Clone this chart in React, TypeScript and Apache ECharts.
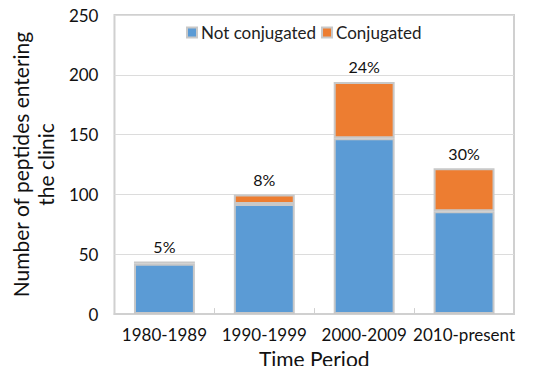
import React, { useEffect, useRef } from "react";
import * as echarts from "echarts";

const categories = ["1980-1989", "1990-1999", "2000-2009", "2010-present"];
const notConjugated = [42, 92, 147, 86];
const conjugated = [2, 8, 47, 36];
const percentLabels = ["5%", "8%", "24%", "30%"];
const yTicks = [0, 50, 100, 150, 200, 250];

const FONT = "Lato";

export default function App() {
  const ref = useRef<HTMLDivElement>(null);
  useEffect(() => {
    if (!ref.current) return;
    const chart = echarts.init(ref.current, null, { renderer: "svg" });
    chart.setOption({
      animation: false,
      textStyle: { fontFamily: FONT },
      grid: { left: 101, right: 36, top: 15, bottom: 59, show: true, borderColor: "#d0d0d0", borderWidth: 2 },
      legend: {
        top: 19,
        left: 181,
        itemWidth: 10,
        itemHeight: 10,
        itemGap: 5,
        textStyle: { fontSize: 17, color: "#222", fontFamily: FONT, padding: [0, 0, 0, -1] },
        data: [
          { name: "Not conjugated", icon: "rect" },
          { name: "Conjugated", icon: "rect" },
        ],
      },
      xAxis: {
        type: "category",
        data: categories,
        name: "Time Period",
        nameLocation: "middle",
        nameGap: 31,
        nameTextStyle: { fontSize: 21, color: "#111", fontFamily: FONT },
        axisLine: { show: true, lineStyle: { color: "#d0d0d0", width: 2 } },
        axisTick: { show: true, inside: true, length: 6, lineStyle: { color: "#d0d0d0" } },
        axisLabel: { fontSize: 17, color: "#111", margin: 12, fontFamily: FONT, interval: 0 },
      },
      yAxis: {
        type: "value",
        min: yTicks[0],
        max: yTicks[yTicks.length - 1],
        interval: 50,
        name: "Number of peptides entering\nthe clinic",
        nameLocation: "middle",
        nameGap: 52,
        nameTextStyle: { fontSize: 21, color: "#111", fontFamily: FONT, lineHeight: 25 },
        axisLine: { show: false },
        axisTick: { show: false },
        axisLabel: { fontSize: 17, color: "#111", margin: 16, fontFamily: FONT },
        splitLine: { lineStyle: { color: "#dcdcdc", width: 1 } },
      },
      series: [
        {
          name: "Not conjugated",
          type: "bar",
          stack: "total",
          data: notConjugated,
          barWidth: "61%",
          itemStyle: { color: "#5b9bd5", borderColor: "#c8c8c8", borderWidth: 2 },
        },
        {
          name: "Conjugated",
          type: "bar",
          stack: "total",
          data: conjugated,
          barWidth: "61%",
          itemStyle: { color: "#ed7d31", borderColor: "#c8c8c8", borderWidth: 2 },
          label: {
            show: true,
            position: "top",
            distance: 7,
            fontSize: 16,
            color: "#111",
            fontFamily: FONT,
            formatter: (p: any) => percentLabels[p.dataIndex],
          },
        },
      ],
    });
    return () => chart.dispose();
  }, []);
  return <div ref={ref} style={{ width: 550, height: 374, margin: -8, background: "#fff" }} />;
}
